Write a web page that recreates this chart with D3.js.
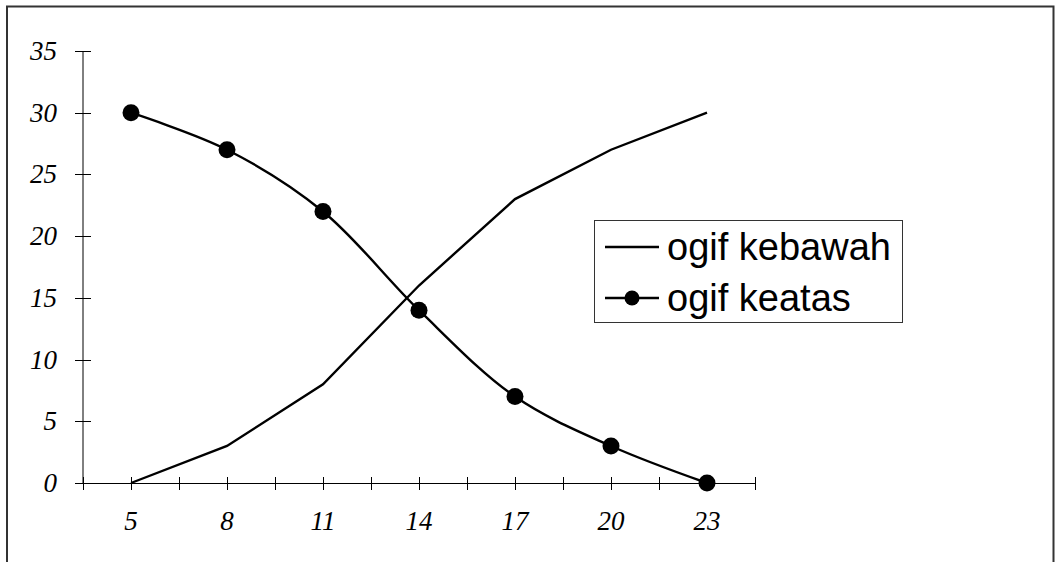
<!DOCTYPE html>
<html>
<head>
<meta charset="utf-8">
<script src="https://cdn.jsdelivr.net/npm/d3@7"></script>
<style>
  html, body { margin: 0; padding: 0; background: #fff; }
  svg { display: block; }
</style>
</head>
<body>
<svg id="chart" width="1055" height="562"></svg>
<script>
const categories = [5, 8, 11, 14, 17, 20, 23];
const ogifKebawah = [0, 3, 8, 16, 23, 27, 30];
const ogifKeatas = [30, 27, 22, 14, 7, 3, 0];
const yTickValues = [0, 5, 10, 15, 20, 25, 30, 35];
const seriesNames = ["ogif kebawah", "ogif keatas"];

const svg = d3.select("#chart");

// outer frame
svg.append("path")
  .attr("d", "M7,562 L7,6.5 L1053.5,6.5 L1053.5,562")
  .attr("fill", "none").attr("stroke", "#333").attr("stroke-width", 2);

const x = d3.scaleLinear().domain([3.5, 24.5]).range([83, 755]);
const y = d3.scaleLinear().domain([0, 35]).range([483, 51]);

// x ticks every 1.5 units
const xTicks = d3.range(0, 15).map(i => 3.5 + i * 1.5);

const g = svg.append("g");

// Y axis
g.append("line").attr("x1", x(3.5)).attr("x2", x(3.5)).attr("y1", y(35)).attr("y2", y(0))
  .attr("stroke", "#000").attr("stroke-width", 1);
g.selectAll(".ytick").data(yTickValues).enter().append("line")
  .attr("x1", x(3.5) - 8).attr("x2", x(3.5) + 8)
  .attr("y1", d => Math.round(y(d)) + 0.5).attr("y2", d => Math.round(y(d)) + 0.5)
  .attr("stroke", "#000");
g.selectAll(".ylab").data(yTickValues).enter().append("text")
  .attr("x", 57).attr("y", d => y(d) + 9)
  .attr("text-anchor", "end")
  .attr("font-family", "'Liberation Serif', 'Times New Roman', serif")
  .attr("font-style", "italic").attr("font-size", 27)
  .text(d => d);

// X axis
g.append("line").attr("x1", x(3.5)).attr("x2", x(24.5)).attr("y1", 483.5).attr("y2", 483.5)
  .attr("stroke", "#000");
g.selectAll(".xtick").data(xTicks).enter().append("line")
  .attr("x1", d => Math.round(x(d)) + 0.5).attr("x2", d => Math.round(x(d)) + 0.5)
  .attr("y1", 477).attr("y2", 490)
  .attr("stroke", "#000");
g.selectAll(".xlab").data(categories).enter().append("text")
  .attr("x", d => x(d)).attr("y", 530)
  .attr("text-anchor", "middle")
  .attr("font-family", "'Liberation Serif', 'Times New Roman', serif")
  .attr("font-style", "italic").attr("font-size", 27)
  .text(d => d);

// Lines
const line1 = d3.line().x((d, i) => x(categories[i])).y(d => y(d));
const line2 = d3.line().x((d, i) => x(categories[i])).y(d => y(d)).curve(d3.curveCatmullRom.alpha(0.5));

g.append("path").attr("d", line1(ogifKebawah))
  .attr("fill", "none").attr("stroke", "#000").attr("stroke-width", 2.4);
g.append("path").attr("d", line2(ogifKeatas))
  .attr("fill", "none").attr("stroke", "#000").attr("stroke-width", 2.4);
g.selectAll(".mk").data(ogifKeatas).enter().append("circle")
  .attr("cx", (d, i) => x(categories[i])).attr("cy", d => y(d)).attr("r", 8.5)
  .attr("fill", "#000");

// Legend
const lg = svg.append("g");
lg.append("rect").attr("x", 594.5).attr("y", 220.5).attr("width", 308).attr("height", 102)
  .attr("fill", "#fff").attr("stroke", "#333").attr("stroke-width", 1);
const rows = [247, 298];
seriesNames.forEach((name, i) => {
  lg.append("line").attr("x1", 605).attr("x2", 659).attr("y1", rows[i]).attr("y2", rows[i])
    .attr("stroke", "#000").attr("stroke-width", 2.4);
  if (i === 1) {
    lg.append("circle").attr("cx", 632).attr("cy", rows[i]).attr("r", 7.5).attr("fill", "#000");
  }
  lg.append("text").attr("x", 667).attr("y", rows[i] + 13)
    .attr("font-family", "'Liberation Sans', Arial, sans-serif")
    .attr("font-size", 38)
    .text(name);
});
</script>
</body>
</html>
